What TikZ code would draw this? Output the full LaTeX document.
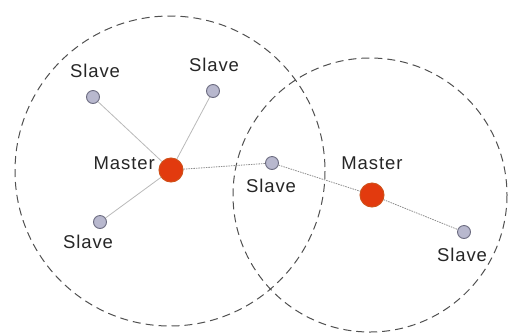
\documentclass[tikz,border=0pt]{standalone}
\usepackage{fontspec}
\setmainfont[LetterSpace=5]{Liberation Sans}
\usetikzlibrary{positioning}

\definecolor{masterred}{HTML}{E23A0E}
\definecolor{masterrim}{HTML}{D0501A}
\definecolor{slavefill}{HTML}{B8B8CE}
\definecolor{slaverim}{HTML}{6C6C80}
\definecolor{rangeline}{HTML}{505050}

\begin{document}
\begin{tikzpicture}[x=1pt,y=-1pt,
  master/.style={circle,draw=masterrim,fill=masterred,line width=1pt,minimum size=24pt,inner sep=0pt},
  slave/.style={circle,draw=slaverim,fill=slavefill,line width=0.9pt,minimum size=13pt,inner sep=0pt},
  lbl/.style={inner sep=0pt,font=\fontsize{18.5}{20}\selectfont,text=black!85},
  radiorange/.style={draw=rangeline,dash pattern=on 8pt off 5pt,line width=1pt},
  link/.style={draw=gray!55,line width=0.8pt},
  weak/.style={draw=gray!90,line width=0.8pt,dash pattern=on 1.5pt off 1pt}]
\useasboundingbox (0,0) rectangle (508,333);

% radio ranges of the two masters
\draw[radiorange] (170,171) circle[radius=155];
\draw[radiorange] (370,195) circle[radius=137];

% devices
\node[master] (m1) at (171,170) {};
\node[master] (m2) at (372,195) {};
\node[slave] (s1) at (93,97) {};
\node[slave] (s2) at (213,91) {};
\node[slave] (s3) at (100,222) {};
\node[slave] (s4) at (272,163) {};
\node[slave] (s5) at (464,232) {};

% links
\draw[link] (m1) -- (s1);
\draw[link] (m1) -- (s2);
\draw[link] (m1) -- (s3);
\draw[weak] (m1) -- (s4);
\draw[weak] (s4) -- (m2);
\draw[weak] (m2) -- (s5);

% labels
\node[lbl] (s1l) at (95,71) {Slave};
\node[lbl] (s2l) at (214,65) {Slave};
\node[lbl] (s3l) at (88,242) {Slave};
\node[lbl] (s4l) at (271,186) {Slave};
\node[lbl] (s5l) at (462,255) {Slave};
\node[lbl,anchor=east] (m1l) at (155,163) {Master};
\node[lbl] (m2l) at (372,163) {Master};
\end{tikzpicture}
\end{document}
